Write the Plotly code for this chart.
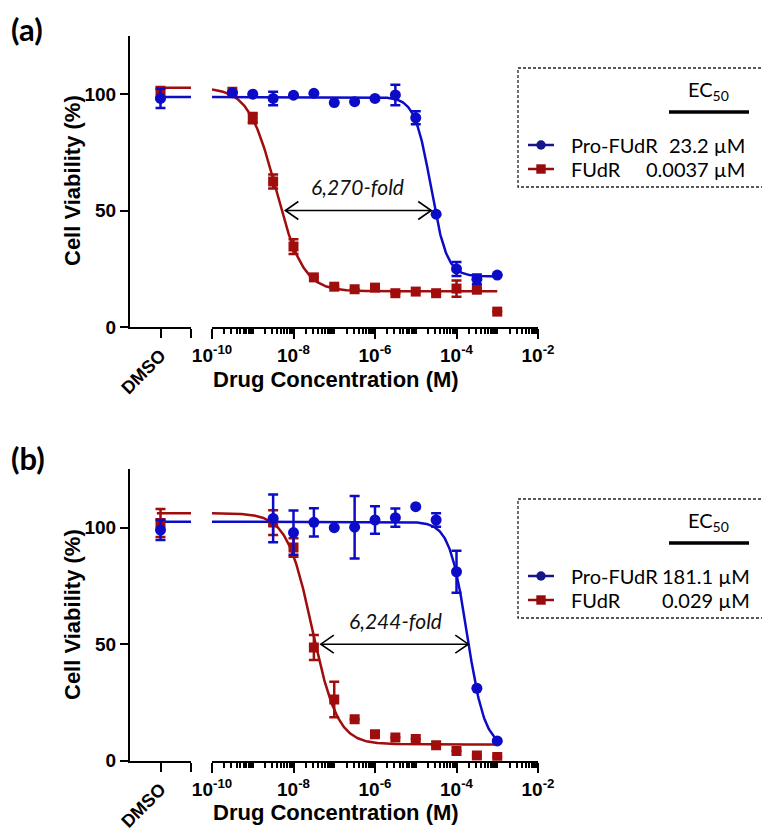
import numpy as np
import plotly.graph_objects as go

# browser body margin is 8px, so the figure is 8px smaller and all reference pixel positions shift by 8
OFF = 8
W, H = 770 - OFF, 836 - OFF

# ---------------- data ----------------
# log10 of drug concentration (M)
log_conc_a = [-9.5, -9, -8.5, -8, -7.5, -7, -6.5, -6, -5.5, -5, -4.5, -4, -3.5, -3]
pro_a = [100.5, 99.9, 98.1, 99.5, 100.3, 96.3, 96.7, 98.1, 99.6, 89.8, 48.4, 24.9, 20.5, 22.3]
pro_a_err = [0, 0, 2.9, 0, 0, 0, 0, 0, 4.4, 2.8, 0, 3.0, 2.0, 0]
fudr_a = [101.0, 89.6, 62.4, 34.5, 21.3, 17.3, 16.2, 16.9, 14.5, 15.2, 14.5, 16.5, 16.0, 6.6]
fudr_a_err = [0, 2.2, 3.0, 3.2, 0, 0, 0, 0, 0, 0, 0, 3.5, 0, 0]
dmso_a = {"Pro-FUdR": (98.1, 4.1), "FUdR": (100.5, 2.5)}

log_conc_b = [-8.5, -8, -7.5, -7, -6.5, -6, -5.5, -5, -4.5, -4, -3.5, -3]
pro_b = [104.0, 97.9, 102.3, 100.0, 100.2, 103.3, 104.3, 109.0, 103.3, 81.1, 31.1, 8.5]
pro_b_err = [10.2, 9.5, 6.1, 0, 13.4, 5.9, 3.9, 0, 2.9, 9.0, 0, 0]
fudr_b = [102.2, 91.5, 48.6, 26.3, 17.8, 11.4, 10.0, 9.3, 6.6, 4.2, 2.2, 1.6]
fudr_b_err = [5.3, 4.0, 5.4, 7.6, 0, 0, 0, 0, 0, 0, 0, 0]
dmso_b = {"Pro-FUdR": (99.0, 4.3), "FUdR": (102.0, 6.0)}

# 4-parameter logistic fit parameters: top, bottom, logEC50, hill
fit_pro_a = [98.7, 21.7, -4.63, 2.2]
fit_fudr_a = [102.7, 15.3, -8.43, 1.3]
fit_pro_b = [102.6, 6.0, -3.74, 2.0]
fit_fudr_b = [106.2, 7.0, -7.54, 1.4]

ec50_a = {"Pro-FUdR": "23.2 µM", "FUdR": "0.0037 µM"}
ec50_b = {"Pro-FUdR": "181.1 µM", "FUdR": "0.029 µM"}
fold_a = "6,270-fold"
fold_b = "6,244-fold"
# fold arrows: (log10 left end, log10 right end, viability level)
arrow_a = (-8.2, -4.62, 50)
arrow_b = (-7.33, -3.71, 50)

x_ticks_log = [-10, -8, -6, -4, -2]
y_ticks = [0, 50, 100]

BLUE = "#0c0cc8"
RED = "#a00d0d"
BLUE_LEG = "#16168a"
RED_LEG = "#960b0b"

# ---------------- helpers ----------------
def fx(px):
    return (px - OFF) / W

def fy(py):
    return 1 - (py - OFF) / H

def four_pl(logx, p):
    top, bot, lec, h = p
    logx = np.asarray(logx)
    return bot + (top - bot) / (1 + 10 ** ((logx - lec) * h))

fig = go.Figure()

PX_PER_UNIT = 2.33
PX_PER_DEC = 40.75
panels = [
    dict(y0=327.0, xd="x", xl="x2", yy="y", logc=log_conc_a, pro=pro_a, proe=pro_a_err,
         fu=fudr_a, fue=fudr_a_err, dmso=dmso_a, fp=fit_pro_a, ff=fit_fudr_a, arrow=arrow_a),
    dict(y0=760.7, xd="x3", xl="x4", yy="y2", logc=log_conc_b, pro=pro_b, proe=pro_b_err,
         fu=fudr_b, fue=fudr_b_err, dmso=dmso_b, fp=fit_pro_b, ff=fit_fudr_b, arrow=arrow_b),
]

curve_x = np.linspace(-10, -3, 400)
for P in panels:
    for name, fit, color in [("FUdR", P["ff"], RED), ("Pro-FUdR", P["fp"], BLUE)]:
        fig.add_trace(go.Scatter(x=10 ** curve_x, y=four_pl(curve_x, fit), mode="lines",
                                 line=dict(color=color, width=2.5), xaxis=P["xl"], yaxis=P["yy"],
                                 showlegend=False, hoverinfo="skip"))
        fig.add_trace(go.Scatter(x=[0.88, 2.0], y=[fit[0], fit[0]], mode="lines",
                                 line=dict(color=color, width=2.5), xaxis=P["xd"], yaxis=P["yy"],
                                 showlegend=False, hoverinfo="skip"))
    for name, vals, errs, color, sym, msize in [
        ("FUdR", P["fu"], P["fue"], RED, "square", 10),
        ("Pro-FUdR", P["pro"], P["proe"], BLUE, "circle", 11),
    ]:
        fig.add_trace(go.Scatter(x=[10 ** v for v in P["logc"]], y=vals, mode="markers",
                                 marker=dict(color=color, symbol=sym, size=msize),
                                 error_y=dict(type="data", array=errs, color=color, thickness=2.5, width=5),
                                 xaxis=P["xl"], yaxis=P["yy"], showlegend=False, name=name))
        dv, de = P["dmso"][name]
        fig.add_trace(go.Scatter(x=[1], y=[dv], mode="markers",
                                 marker=dict(color=color, symbol=sym, size=msize),
                                 error_y=dict(type="data", array=[de], color=color, thickness=2.5, width=5),
                                 xaxis=P["xd"], yaxis=P["yy"], showlegend=False, name=name))
    # double-headed fold arrow with open chevron heads
    l0, l1, lev = P["arrow"]
    hx = 13 / PX_PER_DEC
    hy = 9 / PX_PER_UNIT
    xs = [l0, l1, None, l0 + hx, l0, l0 + hx, None, l1 - hx, l1, l1 - hx]
    ys = [lev, lev, None, lev + hy, lev, lev - hy, None, lev + hy, lev, lev - hy]
    fig.add_trace(go.Scatter(x=[None if v is None else 10 ** v for v in xs], y=ys, mode="lines",
                             line=dict(color="black", width=1.6), xaxis=P["xl"], yaxis=P["yy"],
                             showlegend=False, hoverinfo="skip", connectgaps=False))

tickfont = dict(family="Liberation Sans, Arial, sans-serif", size=19, color="black", weight="bold")
minor_vals = [k * 10.0 ** d for d in range(-10, -2) for k in range(1, 10)] + [1e-2]

layout = dict(width=W, height=H, margin=dict(l=0, r=0, t=0, b=0),
              paper_bgcolor="white", plot_bgcolor="white", template="none", showlegend=False)

for i, P in enumerate(panels):
    y0 = P["y0"]
    ytop = y0 - 125 * PX_PER_UNIT
    ykey = "yaxis" if i == 0 else "yaxis2"
    xd = "xaxis" if i == 0 else "xaxis3"
    xl = "xaxis2" if i == 0 else "xaxis4"
    layout[ykey] = dict(domain=[fy(y0), fy(ytop)], range=[0, 125], anchor=P["xd"],
                        showline=True, linewidth=2, linecolor="black", ticks="outside",
                        ticklen=8, tickwidth=2, tickcolor="black", tickvals=y_ticks,
                        tickfont=tickfont, showgrid=False, zeroline=False)
    layout[xd] = dict(domain=[fx(130), fx(191)], range=[0, 2], anchor=P["yy"],
                      showline=True, linewidth=2, linecolor="black", ticks="outside",
                      ticklen=9, tickwidth=2, tickcolor="black", tickvals=[1, 2],
                      ticktext=["DMSO", ""], tickangle=-45, tickfont=dict(tickfont, size=18),
                      showgrid=False, zeroline=False)
    layout[xl] = dict(domain=[fx(212), fx(212 + 8 * PX_PER_DEC)], type="log", range=[-10, -2],
                      anchor=P["yy"], showline=True, linewidth=2, linecolor="black", ticks="outside",
                      ticklen=10, tickwidth=2, tickcolor="black",
                      tickvals=[10.0 ** v for v in x_ticks_log],
                      ticktext=["10<sup>%d</sup>" % v for v in x_ticks_log],
                      tickfont=tickfont, showgrid=False, zeroline=False,
                      minor=dict(tickmode="array", tickvals=minor_vals, ticks="outside",
                                 ticklen=5, tickwidth=1.5, tickcolor="black", showgrid=False))

fig.update_layout(**layout)

# ---------------- annotations & shapes ----------------
ann = []
shapes = []
title_font = dict(family="Liberation Sans, Arial, sans-serif", size=22, color="black", weight="bold")
lbl_font = dict(family="Lato, sans-serif", size=20, color="black")

panel_meta = [
    dict(label="(a)", ly=8, ycen=181, xtitle_y=379, fold=fold_a, fold_xy=(357, 187),
         ec=ec50_a, off=0, vx=747),
    dict(label="(b)", ly=437, ycen=615, xtitle_y=812, fold=fold_b, fold_xy=(395, 620),
         ec=ec50_b, off=431, vx=752),
]

for M in panel_meta:
    ann.append(dict(text="<b>%s</b>" % M["label"], x=fx(9), y=fy(M["ly"]), xref="paper", yref="paper",
                    xanchor="left", yanchor="top", showarrow=False,
                    font=dict(family="Lato, sans-serif", size=31, color="black")))
    ann.append(dict(text="Cell Viability (%)", x=fx(72), y=fy(M["ycen"]), xref="paper", yref="paper",
                    textangle=-90, xanchor="center", yanchor="middle", showarrow=False, font=title_font))
    ann.append(dict(text="Drug Concentration (M)", x=fx(336), y=fy(M["xtitle_y"]), xref="paper",
                    yref="paper", xanchor="center", yanchor="middle", showarrow=False, font=title_font))
    ann.append(dict(text="<i>%s</i>" % M["fold"], x=fx(M["fold_xy"][0]), y=fy(M["fold_xy"][1]),
                    xref="paper", yref="paper", xanchor="center", yanchor="middle", showarrow=False,
                    font=dict(family="Lato, sans-serif", size=21, color="#111111")))
    o = M["off"]
    shapes.append(dict(type="rect", xref="paper", yref="paper", x0=fx(518), x1=fx(764),
                       y0=fy(68 + o), y1=fy(187 + o), line=dict(color="#222222", width=1.3, dash="3px,2px")))
    ann.append(dict(text="EC<sub>50</sub>", x=fx(708), y=fy(90 + o), xref="paper", yref="paper",
                    xanchor="center", yanchor="middle", showarrow=False, font=lbl_font))
    shapes.append(dict(type="line", xref="paper", yref="paper", x0=fx(669), x1=fx(749),
                       y0=fy(112 + o), y1=fy(112 + o), line=dict(color="black", width=3.5)))
    for (name, color, kind, ry) in [("Pro-FUdR", BLUE_LEG, "circle", 145), ("FUdR", RED_LEG, "rect", 169)]:
        yy = ry + o
        shapes.append(dict(type="line", xref="paper", yref="paper", x0=fx(528), x1=fx(554),
                           y0=fy(yy), y1=fy(yy), line=dict(color=color, width=2.5)))
        r = 4.7
        shapes.append(dict(type=kind, xref="paper", yref="paper", x0=fx(541 - r), x1=fx(541 + r),
                           y0=fy(yy + r), y1=fy(yy - r), fillcolor=color, line=dict(color=color, width=0)))
        ann.append(dict(text=name, x=fx(569), y=fy(yy), xref="paper", yref="paper",
                        xanchor="left", yanchor="middle", showarrow=False, font=lbl_font))
        ann.append(dict(text=M["ec"][name], x=fx(M["vx"]), y=fy(yy), xref="paper", yref="paper",
                        xanchor="right", yanchor="middle", showarrow=False, font=lbl_font))

fig.update_layout(annotations=ann, shapes=shapes)
fig.write_html("out.html")
